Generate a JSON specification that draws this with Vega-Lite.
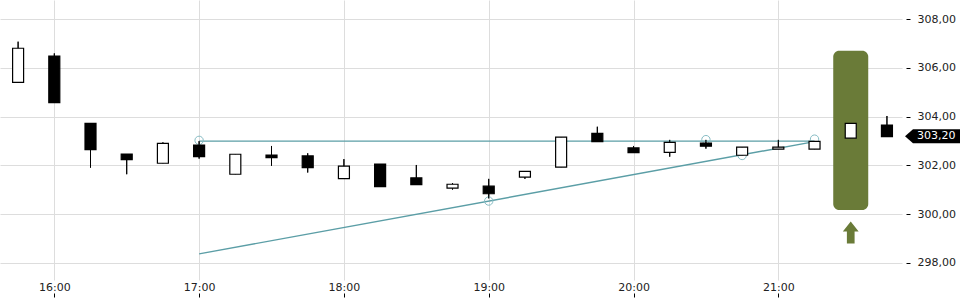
{
  "$schema": "https://vega.github.io/schema/vega-lite/v6.json",
  "width": 902,
  "height": 280,
  "autosize": {"type": "none"},
  "padding": {"left": 0, "top": 0, "right": 58, "bottom": 20},
  "background": "white",
  "config": {
    "font": "DejaVu Sans",
    "view": {"stroke": null},
    "axis": {"labelFont": "DejaVu Sans", "labelFontSize": 11, "labelColor": "#222", "gridColor": "#dddddd", "gridWidth": 1, "domain": false, "title": null}
  },
  "datasets": {
    "candles": [
      {"t": 15.75, "o": 305.41, "h": 307.08, "l": 305.41, "c": 306.81},
      {"t": 16.00, "o": 306.49, "h": 306.60, "l": 304.58, "c": 304.58},
      {"t": 16.25, "o": 303.73, "h": 303.73, "l": 301.91, "c": 302.65},
      {"t": 16.50, "o": 302.47, "h": 302.47, "l": 301.64, "c": 302.24},
      {"t": 16.75, "o": 302.09, "h": 302.95, "l": 302.09, "c": 302.91},
      {"t": 17.00, "o": 302.84, "h": 303.00, "l": 302.28, "c": 302.36},
      {"t": 17.25, "o": 301.64, "h": 302.46, "l": 301.64, "c": 302.46},
      {"t": 17.50, "o": 302.43, "h": 302.80, "l": 301.99, "c": 302.32},
      {"t": 17.75, "o": 302.39, "h": 302.50, "l": 301.71, "c": 301.91},
      {"t": 18.00, "o": 301.46, "h": 302.26, "l": 301.46, "c": 301.97},
      {"t": 18.25, "o": 302.06, "h": 302.06, "l": 301.13, "c": 301.13},
      {"t": 18.50, "o": 301.49, "h": 302.02, "l": 301.21, "c": 301.21},
      {"t": 18.75, "o": 301.07, "h": 301.28, "l": 301.01, "c": 301.23},
      {"t": 19.00, "o": 301.15, "h": 301.45, "l": 300.65, "c": 300.84},
      {"t": 19.25, "o": 301.52, "h": 301.76, "l": 301.45, "c": 301.76},
      {"t": 19.50, "o": 301.93, "h": 303.16, "l": 301.93, "c": 303.16},
      {"t": 19.75, "o": 303.32, "h": 303.59, "l": 302.98, "c": 302.98},
      {"t": 20.00, "o": 302.72, "h": 302.80, "l": 302.53, "c": 302.53},
      {"t": 20.25, "o": 302.54, "h": 303.05, "l": 302.36, "c": 302.95},
      {"t": 20.50, "o": 302.92, "h": 303.05, "l": 302.69, "c": 302.79},
      {"t": 20.75, "o": 302.42, "h": 302.75, "l": 302.42, "c": 302.75},
      {"t": 21.00, "o": 302.67, "h": 303.05, "l": 302.67, "c": 302.75},
      {"t": 21.25, "o": 302.67, "h": 302.99, "l": 302.67, "c": 302.99},
      {"t": 21.50, "o": 303.12, "h": 303.73, "l": 303.12, "c": 303.73},
      {"t": 21.75, "o": 303.66, "h": 304.03, "l": 303.18, "c": 303.18}
    ],
    "trend": [
      {"line": "resistance", "t": 17.00, "v": 303.00},
      {"line": "resistance", "t": 21.25, "v": 303.00},
      {"line": "support", "t": 17.00, "v": 298.37},
      {"line": "support", "t": 21.25, "v": 302.98}
    ],
    "pivots": [
      {"t": 17.00, "v": 303.03},
      {"t": 19.00, "v": 300.54},
      {"t": 20.50, "v": 303.06},
      {"t": 20.75, "v": 302.41},
      {"t": 21.25, "v": 303.08}
    ],
    "signal": [
      {"t": 21.5, "lo": 300.17, "hi": 306.71, "arrow": 299.25}
    ],
    "price": [
      {"price": 303.2, "label": "303,20"}
    ]
  },
  "layer": [
    {
      "data": {"name": "candles"},
      "mark": {"type": "rule", "color": "black", "strokeWidth": 1},
      "encoding": {
        "x": {"field": "t", "type": "quantitative", "scale": {"domain": [15.625, 21.854], "nice": false, "zero": false, "padding": 0},
          "axis": {"values": [16, 17, 18, 19, 20, 21], "labelExpr": "datum.value + ':00'", "grid": true, "tickSize": 17, "tickDash": [0, 13, 4, 0], "tickColor": "black", "tickWidth": 1, "labelPadding": -16}},
        "y": {"field": "l", "type": "quantitative", "scale": {"domain": [297.3, 308.79], "nice": false, "zero": false, "padding": 0},
          "axis": {"orient": "right", "values": [298, 300, 302, 304, 306, 308], "labelExpr": "replace(format(datum.value, '.2f'), '.', ',')", "grid": true, "offset": 4, "tickSize": 4, "tickColor": "black", "labelPadding": 7}},
        "y2": {"field": "h"}
      }
    },
    {
      "data": {"name": "trend"},
      "mark": {"type": "line", "color": "#5b9ea6", "strokeWidth": 1.4},
      "encoding": {
        "x": {"field": "t", "type": "quantitative"},
        "y": {"field": "v", "type": "quantitative"},
        "detail": {"field": "line"}
      }
    },
    {
      "data": {"name": "pivots"},
      "mark": {"type": "point", "shape": "circle", "filled": false, "stroke": "#86bcc4", "strokeWidth": 1, "size": 70, "opacity": 1},
      "encoding": {
        "x": {"field": "t", "type": "quantitative"},
        "y": {"field": "v", "type": "quantitative"}
      }
    },
    {
      "data": {"name": "signal"},
      "mark": {"type": "bar", "color": "#6a7b38", "size": 35, "cornerRadius": 6},
      "encoding": {
        "x": {"field": "t", "type": "quantitative"},
        "y": {"field": "lo", "type": "quantitative"},
        "y2": {"field": "hi"}
      }
    },
    {
      "data": {"name": "signal"},
      "mark": {"type": "point", "shape": "M0,-1L0.72,-0.1L0.35,-0.1L0.35,1L-0.35,1L-0.35,-0.1L-0.72,-0.1Z", "filled": true, "fill": "#6a7b38", "strokeWidth": 0, "size": 484, "opacity": 1},
      "encoding": {
        "x": {"field": "t", "type": "quantitative"},
        "y": {"field": "arrow", "type": "quantitative"}
      }
    },
    {
      "data": {"name": "candles"},
      "mark": {"type": "rule", "color": "black", "strokeWidth": 1},
      "encoding": {
        "x": {"field": "t", "type": "quantitative"},
        "y": {"field": "l", "type": "quantitative"},
        "y2": {"field": "h"}
      }
    },
    {
      "data": {"name": "candles"},
      "mark": {"type": "bar", "size": 11, "stroke": "black", "strokeWidth": 1.2},
      "encoding": {
        "x": {"field": "t", "type": "quantitative"},
        "y": {"field": "o", "type": "quantitative"},
        "y2": {"field": "c"},
        "fill": {"condition": {"test": "datum.c >= datum.o", "value": "white"}, "value": "black"}
      }
    },
    {
      "data": {"name": "price"},
      "mark": {"type": "point", "shape": "M3,0L11,-7L58,-7L58,7L11,7Z", "filled": true, "fill": "black", "strokeWidth": 0, "size": 4, "opacity": 1},
      "encoding": {
        "x": {"value": "width"},
        "y": {"field": "price", "type": "quantitative"}
      }
    },
    {
      "data": {"name": "price"},
      "mark": {"type": "text", "color": "white", "fontSize": 11, "align": "left", "baseline": "middle", "dx": 15, "font": "DejaVu Sans"},
      "encoding": {
        "x": {"value": "width"},
        "y": {"field": "price", "type": "quantitative"},
        "text": {"field": "label"}
      }
    }
  ]
}
